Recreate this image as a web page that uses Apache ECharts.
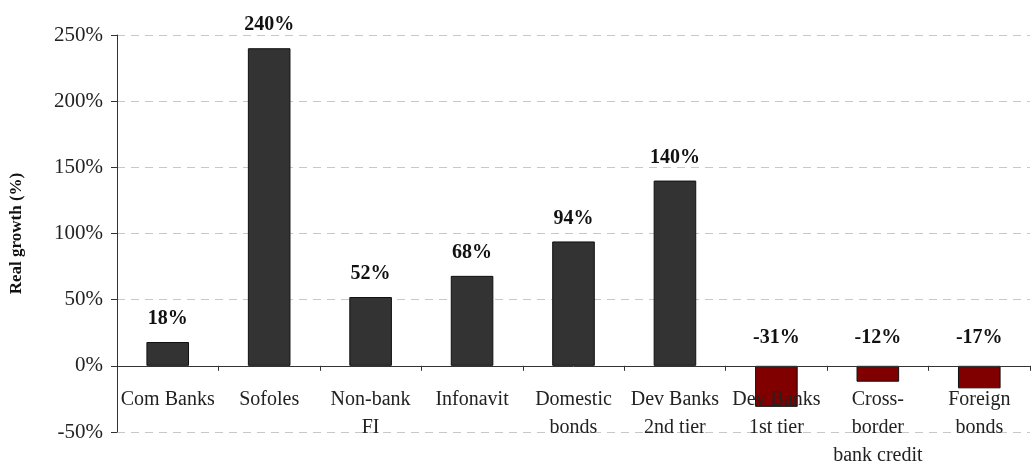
<!DOCTYPE html>
<html>
<head>
<meta charset="utf-8">
<script src="https://cdn.jsdelivr.net/npm/echarts@6/dist/echarts.min.js"></script>
<style>
html,body{margin:0;padding:0;background:#fff;}
#chart{width:1034px;height:462px;}
</style>
</head>
<body>
<div id="chart"></div>
<script>
const categories = ["Com Banks", "Sofoles", "Non-bank\nFI", "Infonavit", "Domestic\nbonds", "Dev Banks\n2nd tier", "Dev Banks\n1st tier", "Cross-\nborder\nbank credit", "Foreign\nbonds"];
const values = [18, 240, 52, 68, 94, 140, -31, -12, -17];
const yTicks = { min: -50, max: 250, interval: 50 };
const FONT = "'Liberation Serif', 'Times New Roman', serif";

const GRID = { left: 117, right: 4, top: 35, bottom: 30 };
const plotH = 462 - GRID.top - GRID.bottom;
const zeroOffset = plotH * (0 - yTicks.min) / (yTicks.max - yTicks.min);

const chart = echarts.init(document.getElementById('chart'));
const data = values.map(v => ({
  value: v,
  itemStyle: { color: v >= 0 ? '#333333' : '#800000' },
  label: { distance: v >= 0 ? 13 : 18 }
}));

chart.setOption({
  animation: false,
  grid: Object.assign({ containLabel: false, outerBoundsMode: 'none' }, GRID),
  xAxis: {
    type: 'category',
    data: categories,
    offset: -zeroOffset,
    z: 10,
    zlevel: 1,
    axisLine: { onZero: false, lineStyle: { color: '#333', width: 1 } },
    axisTick: { show: true, length: 5, alignWithLabel: false, lineStyle: { color: '#333' } },
    axisLabel: {
      interval: 0, margin: 20, color: '#222', fontFamily: FONT, fontSize: 20, lineHeight: 28
    },
    splitLine: { show: false }
  },
  yAxis: {
    type: 'value',
    min: yTicks.min, max: yTicks.max, interval: yTicks.interval,
    name: 'Real growth (%)',
    nameLocation: 'middle',
    nameGap: 92,
    nameRotate: 90,
    nameTextStyle: { fontFamily: FONT, fontSize: 17, fontWeight: 'bold', color: '#111' },
    axisLine: { show: true, lineStyle: { color: '#333', width: 1 } },
    axisTick: { show: true, length: 6, lineStyle: { color: '#333' } },
    axisLabel: {
      formatter: '{value}%', margin: 14, color: '#222', fontFamily: FONT, fontSize: 21
    },
    splitLine: { show: true, lineStyle: { color: '#c8c8c8', type: [8, 6], width: 1 } }
  },
  series: [{
    type: 'bar',
    z: 1,
    data: data,
    barWidth: '42%',
    itemStyle: { borderColor: '#111', borderWidth: 1 },
    label: {
      show: true, position: 'top', formatter: '{c}%',
      fontFamily: FONT, fontSize: 20, fontWeight: 'bold', color: '#111'
    }
  }]
});
</script>
</body>
</html>
